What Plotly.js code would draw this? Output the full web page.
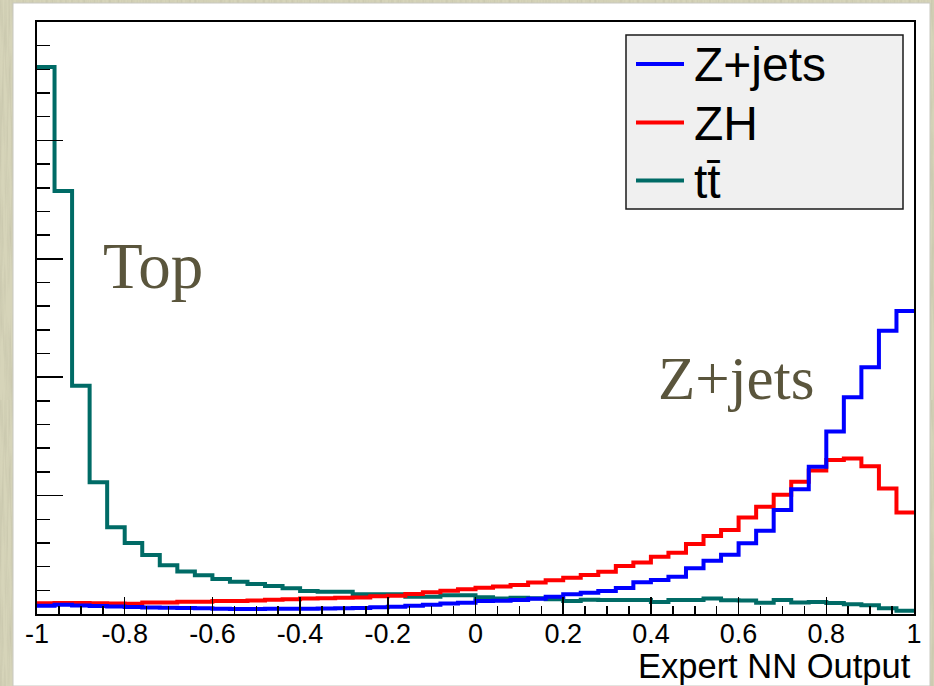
<!DOCTYPE html>
<html>
<head>
<meta charset="utf-8">
<script src="https://cdn.plot.ly/plotly-3.0.1.min.js"></script>
<style>
  html, body {
    margin: 0;
    padding: 0;
    width: 934px;
    height: 686px;
    overflow: hidden;
    background-color: #d6d4b9;
    background-image: url("data:image/svg+xml;utf8,<svg xmlns='http://www.w3.org/2000/svg' width='400' height='400'><filter id='n'><feTurbulence type='fractalNoise' baseFrequency='0.35 0.015' numOctaves='3' seed='7'/><feColorMatrix values='0 0 0 0 0.45  0 0 0 0 0.44  0 0 0 0 0.32  0.9 0 0 0 -0.35'/></filter><rect width='100%' height='100%' filter='url(%23n)'/></svg>");
  }
  #chart { width: 934px; height: 686px; }
</style>
</head>
<body>
<div id="chart"></div>
<script>
// Binning of the NN output histograms: 50 bins on [-1, 1]
const xMin = -1;
const xMax = 1;
const nBins = 50;

// Bin contents (arbitrary normalisation), one value per bin from -1 to 1
const zjets = [
  0.070, 0.078, 0.072, 0.068, 0.063, 0.059, 0.055, 0.053, 0.050, 0.048,
  0.045, 0.043, 0.043, 0.045, 0.045, 0.045, 0.046, 0.048, 0.050, 0.056,
  0.062, 0.070, 0.079, 0.088, 0.096, 0.110, 0.112, 0.118, 0.128, 0.146,
  0.166, 0.180, 0.195, 0.220, 0.268, 0.287, 0.315, 0.386, 0.450, 0.501,
  0.597, 0.704, 0.878, 1.053, 1.244, 1.542, 1.830, 2.084, 2.393, 2.559
];
const zh = [
  0.090, 0.093, 0.093, 0.091, 0.088, 0.086, 0.098, 0.098, 0.104, 0.104,
  0.109, 0.109, 0.115, 0.121, 0.124, 0.130, 0.134, 0.138, 0.140, 0.150,
  0.155, 0.169, 0.183, 0.197, 0.208, 0.222, 0.232, 0.245, 0.265, 0.284,
  0.307, 0.329, 0.357, 0.405, 0.434, 0.484, 0.518, 0.591, 0.659, 0.709,
  0.816, 0.906, 1.008, 1.118, 1.211, 1.301, 1.314, 1.247, 1.061, 0.858
];
const ttbar = [
  4.620, 3.573, 1.928, 1.112, 0.732, 0.600, 0.498, 0.412, 0.358, 0.328,
  0.296, 0.272, 0.254, 0.236, 0.217, 0.194, 0.188, 0.188, 0.166, 0.166,
  0.166, 0.146, 0.146, 0.158, 0.158, 0.141, 0.130, 0.138, 0.132, 0.125,
  0.110, 0.120, 0.118, 0.118, 0.118, 0.101, 0.118, 0.118, 0.130, 0.116,
  0.114, 0.096, 0.118, 0.098, 0.101, 0.093, 0.082, 0.073, 0.048, 0.028
];

// Series names (legend order) and colours
const seriesNames = ['Z+jets', 'ZH', 'tt\u0304'];
const seriesColors = ['#0000ff', '#ff0000', '#006b66'];

// Axis tick labels and text
const xTickVals = [-1, -0.8, -0.6, -0.4, -0.2, 0, 0.2, 0.4, 0.6, 0.8, 1];
const xTickText = ['-1', '-0.8', '-0.6', '-0.4', '-0.2', '0', '0.2', '0.4', '0.6', '0.8', '1'];
const xTitle = 'Expert NN Output';
const labels = ['Top', 'Z+jets'];

// Histogram outline: left bin edges plus the closing upper edge
const binWidth = (xMax - xMin) / nBins;
const edges = Array.from({length: nBins + 1}, (_, i) => xMin + i * binWidth);

function stepTrace(values, name, color) {
  return {
    type: 'scatter',
    mode: 'lines',
    name: name,
    x: edges,
    y: values.concat([values[values.length - 1]]),
    line: {shape: 'hv', color: color, width: 4},
    showlegend: false,
    hoverinfo: 'skip'
  };
}

// drawn back to front: ttbar, ZH, Z+jets
const data = [
  stepTrace(ttbar, seriesNames[2], seriesColors[2]),
  stepTrace(zh, seriesNames[1], seriesColors[1]),
  stepTrace(zjets, seriesNames[0], seriesColors[0])
];

const W = 934, H = 686;
const M = {l: 37, r: 20, t: 22, b: 72};
const pw = W - M.l - M.r, ph = H - M.t - M.b;
const px = v => (v - M.l) / pw;      // page pixel -> paper x
const py = v => (H - M.b - v) / ph;  // page pixel -> paper y

const sans = 'Liberation Sans, Arial, Helvetica, sans-serif';
const serif = 'Liberation Serif, Times New Roman, serif';
const olive = '#5a553c';

// Legend box: frame, line samples and entry names
const legendBox = {x0: 626, x1: 903, y0: 35, y1: 209};
const legendRows = [64, 122.5, 180.5];
const legendShapes = [
  {type: 'rect', xref: 'paper', yref: 'paper', layer: 'below',
   x0: px(legendBox.x0), x1: px(legendBox.x1), y0: py(legendBox.y1), y1: py(legendBox.y0),
   fillcolor: '#f0f0f0', line: {color: '#1a1a1a', width: 1.5}}
].concat(seriesNames.map((n, i) => ({
  type: 'line', xref: 'paper', yref: 'paper', layer: 'above',
  x0: px(636), x1: px(684), y0: py(legendRows[i]), y1: py(legendRows[i]),
  line: {color: seriesColors[i], width: 4}
})));
const legendText = seriesNames.map((n, i) => ({
  xref: 'paper', yref: 'paper', x: px(692), y: py(legendRows[i] + 1),
  xanchor: 'left', yanchor: 'middle', showarrow: false,
  text: n, font: {family: sans, size: 48, color: '#000'}
}));

const layout = {
  width: W,
  height: H,
  autosize: false,
  margin: {l: M.l, r: M.r, t: M.t, b: M.b, pad: 0},
  paper_bgcolor: 'rgba(0,0,0,0)',
  plot_bgcolor: '#ffffff',
  showlegend: false,
  xaxis: {
    range: [xMin, xMax],
    showline: true, mirror: true, linecolor: '#000', linewidth: 2,
    showgrid: false, zeroline: false,
    ticks: 'inside', ticklen: 17, tickwidth: 1.5, tickcolor: '#000',
    tickmode: 'array', tickvals: xTickVals, ticktext: xTickText,
    tickfont: {family: sans, size: 27, color: '#000'},
    ticklabelstandoff: -5,
    minor: {tickmode: 'linear', tick0: -1, dtick: 0.05, ticks: 'inside',
            ticklen: 8, tickwidth: 1.5, tickcolor: '#000', showgrid: false},
    fixedrange: true
  },
  yaxis: {
    range: [0, 5],
    showline: true, mirror: true, linecolor: '#000', linewidth: 2,
    showgrid: false, zeroline: false,
    ticks: 'inside', tickmode: 'linear', tick0: 0, dtick: 1,
    ticklen: 26, tickwidth: 1.5, tickcolor: '#000',
    showticklabels: false,
    minor: {tickmode: 'linear', tick0: 0, dtick: 0.2, ticks: 'inside',
            ticklen: 13, tickwidth: 1.5, tickcolor: '#000', showgrid: false},
    fixedrange: true
  },
  shapes: [
    // white canvas
    {type: 'rect', xref: 'paper', yref: 'paper', layer: 'below',
     x0: px(13), x1: px(930), y0: py(686), y1: py(3),
     fillcolor: '#ffffff', line: {color: '#c8c8c0', width: 1}}
  ].concat(legendShapes),
  annotations: [
    {xref: 'paper', yref: 'paper', x: px(913), y: py(666),
     xanchor: 'right', yanchor: 'middle', showarrow: false,
     text: xTitle, font: {family: sans, size: 34.5, color: '#000'}},
    {xref: 'paper', yref: 'paper', x: px(101), y: py(266),
     xanchor: 'left', yanchor: 'middle', showarrow: false,
     text: labels[0], font: {family: serif, size: 65, color: olive}},
    {xref: 'paper', yref: 'paper', x: px(656), y: py(378),
     xanchor: 'left', yanchor: 'middle', showarrow: false,
     text: labels[1], font: {family: serif, size: 61, color: olive}}
  ].concat(legendText)
};

Plotly.newPlot('chart', data, layout, {staticPlot: true, displayModeBar: false});
</script>
</body>
</html>
